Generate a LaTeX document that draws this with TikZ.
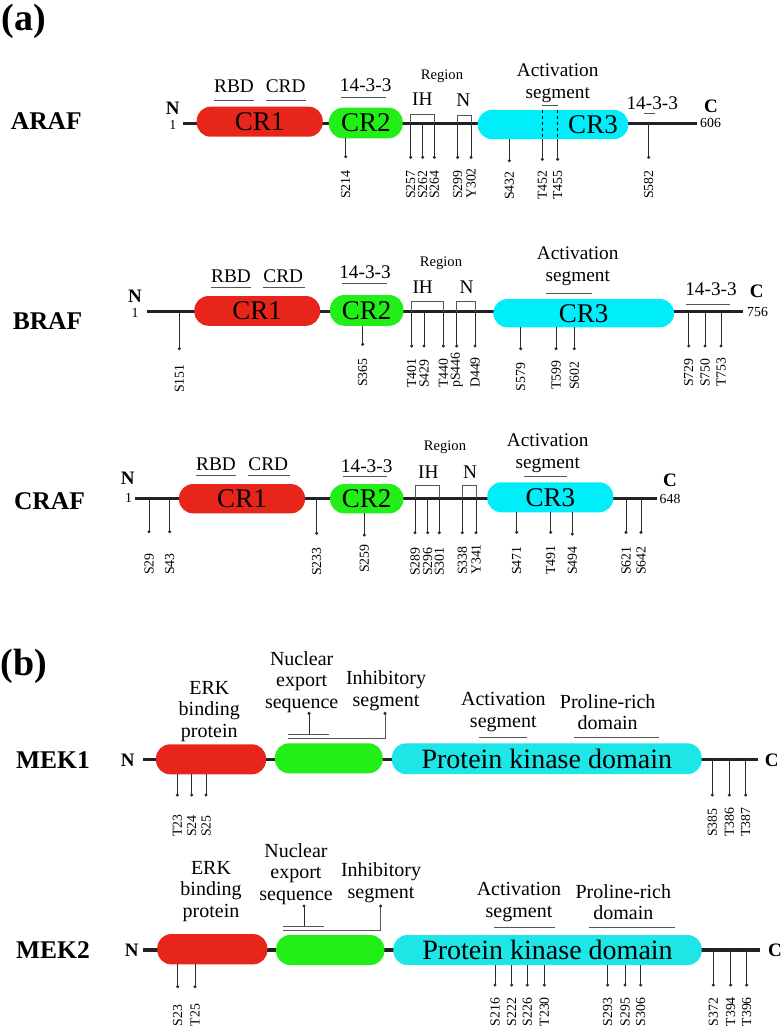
\documentclass[tikz,border=0pt]{standalone}
\usepackage{fontspec}
\setmainfont{Liberation Serif}
\definecolor{crred}{RGB}{232,37,26}
\definecolor{crgreen}{RGB}{34,238,24}
\definecolor{crcyan}{RGB}{0,238,250}
\definecolor{mkcyan}{RGB}{30,230,230}
\definecolor{bb}{RGB}{34,34,34}
\definecolor{st}{RGB}{45,45,45}
\definecolor{ul}{RGB}{85,85,85}
\newcommand\fsite{\fontsize{13.8}{14}\selectfont}
\newcommand\flab{\fontsize{19.3}{21.7}\selectfont}
\newcommand\flabm{\fontsize{20}{21.7}\selectfont}
\newcommand\fregion{\fontsize{14.6}{15}\selectfont}
\newcommand\fcr{\fontsize{27}{28}\selectfont}
\newcommand\fpk{\fontsize{28}{30}\selectfont}
\newcommand\fname{\bfseries\fontsize{25.5}{28}\selectfont}
\newcommand\fpanel{\bfseries\fontsize{38}{42}\selectfont}
\newcommand\fterm{\bfseries\fontsize{19}{20}\selectfont}
\tikzset{
  backbone/.style={line width=3.2pt, draw=bb},
  dom/.style={rounded corners=14pt, inner sep=0pt, font=\fcr},
  stick/.style={line width=0.9pt, draw=st},
  uline/.style={line width=1pt, draw=ul},
  brk/.style={line width=0.9pt, draw=ul},
  lab/.style={font=\flab, inner sep=0pt, align=center},
  labm/.style={font=\flabm, inner sep=0pt, align=center},
  sitelab/.style={rotate=90, anchor=west, font=\fsite, inner sep=0pt},
  rowname/.style={font=\fname, inner sep=0pt},
  term/.style={font=\fterm, inner sep=0pt},
  num/.style={font=\fsite, inner sep=0pt},
  region/.style={font=\fregion, inner sep=0pt},
  panel/.style={font=\fpanel, inner sep=0pt},
}
% x, y start, y dot, text, y of label start
\newcommand\site[5]{%
  \draw[stick] (#1,#2) -- (#1,#3);
  \fill[st] (#1,#3) circle (1.7pt);
  \node[sitelab] at (#1,#5) {#4};}
\begin{document}
\begin{tikzpicture}[x=1pt,y=-1pt]
\useasboundingbox (0,0) rectangle (782,1031);
\fill[white] (0,0) rectangle (782,1031);

% ---------------- panel labels ----------------
\node[panel] (pa) at (24,21.5) {(a)};
\node[panel] (pb) at (24,666) {(b)};

% ================= ARAF =================
\node[rowname] (araf) at (46.3,121) {ARAF};
\draw[backbone] (183,123.3) coordinate (aN) -- (696.7,123.3) coordinate (aC);
\node[term] (aNl) at (172.7,108) {N};
\node[num] (aN1) at (172.7,125) {1};
\node[term] (aCl) at (711,106.7) {C};
\node[num, anchor=west] (aC1) at (700,123.3) {606};
\node[dom, fill=crred, minimum width=126pt, minimum height=30pt] (acr1) at (259.7,121.7) {CR1};
\node[dom, fill=crgreen, minimum width=73.7pt, minimum height=30.6pt] (acr2) at (365.8,123) {CR2};
\node[dom, fill=crcyan, minimum width=150.6pt, minimum height=29pt] (acr3) at (553,124.5) {};
\node[font=\fcr, inner sep=0pt] (acr3t) at (593,124.5) {CR3};
\node[lab] (arbd) at (234,86) {RBD};
\draw[uline] (214,100) -- (254,100);
\node[lab] (acrd) at (285.7,86) {CRD};
\draw[uline] (266,100) -- (306,100);
\node[lab] (a1433) at (365.7,85) {14-3-3};
\draw[uline] (341.3,97.3) -- (386,97.3);
\node[region] (areg) at (442,76) {Region};
\node[lab] (aih) at (422.3,99.3) {IH};
\draw[brk] (410.7,123.3) -- (410.7,114.3) -- (434.3,114.3) -- (434.3,123.3);
\node[lab] (anr) at (463.3,100) {N};
\draw[brk] (457.7,123.3) -- (457.7,115) -- (471,115) -- (471,123.3);
\node[lab] (aact) at (557.7,83) {Activation\\segment};
\draw[uline] (542.3,105) -- (557.7,105);
\node[lab] (a1433b) at (652.3,103.3) {14-3-3};
\draw[uline] (644,113.3) -- (655,113.3);
\site{345.7}{138.3}{156.7}{S214}{199}
\site{410.7}{123.3}{157.3}{S257}{199}
\site{422.7}{123.3}{157.3}{S262}{199}
\site{434.3}{123.3}{157.3}{S264}{199}
\site{457.7}{123.3}{157.3}{S299}{199}
\site{471}{123.3}{157.3}{Y302}{199}
\site{509.3}{139}{160.7}{S432}{200}
\draw[line width=0.9pt, dashed] (542.3,110) -- (542.3,139);
\draw[line width=0.9pt, dashed] (557.7,110) -- (557.7,139);
\site{542.3}{139}{159.3}{T452}{200}
\site{557.7}{139}{159.3}{T455}{200}
\site{648.7}{123.3}{157.3}{S582}{199}

% ================= BRAF =================
\node[rowname] (braf) at (47.5,321) {BRAF};
\draw[backbone] (146.7,311.7) coordinate (bN) -- (743.3,311.7) coordinate (bC);
\node[term] (bNl) at (135,296.7) {N};
\node[num] (bN1) at (135,313.3) {1};
\node[term] (bCl) at (756.7,291.7) {C};
\node[num, anchor=west] (bC1) at (747,311.7) {756};
\node[dom, fill=crred, minimum width=125.7pt, minimum height=29.7pt] (bcr1) at (257.2,310.9) {CR1};
\node[dom, fill=crgreen, minimum width=73.3pt, minimum height=30.7pt] (bcr2) at (366.7,310.4) {CR2};
\node[dom, fill=crcyan, minimum width=180.7pt, minimum height=28.3pt] (bcr3) at (583.7,313.2) {CR3};
\node[lab] (brbd) at (231,276) {RBD};
\draw[uline] (211,287.3) -- (251,287.3);
\node[lab] (bcrd) at (283.3,276) {CRD};
\draw[uline] (262.7,287.3) -- (304.7,287.3);
\node[lab] (b1433) at (365,272.3) {14-3-3};
\draw[uline] (342.3,283.3) -- (387.3,283.3);
\node[region] (breg) at (441,263.5) {Region};
\node[lab] (bih) at (422.7,286.7) {IH};
\draw[brk] (411.7,311.7) -- (411.7,301.7) -- (443.3,301.7) -- (443.3,311.7);
\node[lab] (bnr) at (466.7,286.7) {N};
\draw[brk] (456.7,311.7) -- (456.7,301.7) -- (475,301.7) -- (475,311.7);
\node[lab] (bact) at (577.7,266.5) {Activation\\segment};
\draw[uline] (545.7,293.3) -- (592.3,293.3);
\node[lab] (b1433b) at (711,289.3) {14-3-3};
\draw[uline] (685.7,304) -- (730,304);
\site{179.3}{311.7}{348.7}{S151}{393}
\site{362.7}{325.7}{344.3}{S365}{387}
\site{411.7}{311.7}{346}{T401}{388}
\site{424}{311.7}{346}{S429}{388}
\site{443.3}{311.7}{346}{T440}{388}
\site{456.7}{311.7}{346}{pS446}{388}
\site{475}{311.7}{346}{D449}{388}
\site{520.7}{327.3}{348.7}{S579}{391.5}
\site{556}{327.3}{348.7}{T599}{390}
\site{574.3}{327.3}{348.7}{S602}{390}
\site{688.7}{311.7}{346}{S729}{387}
\site{705}{311.7}{346}{S750}{387}
\site{721}{311.7}{346}{T753}{387}

% ================= CRAF =================
\node[rowname] (craf) at (49.5,501) {CRAF};
\draw[backbone] (135,498.3) coordinate (cN) -- (657.3,498.3) coordinate (cC);
\node[term] (cNl) at (127.7,478.3) {N};
\node[num] (cN1) at (128.5,498.3) {1};
\node[term] (cCl) at (670,480) {C};
\node[num, anchor=west] (cC1) at (659.5,499) {648};
\node[dom, fill=crred, minimum width=126pt, minimum height=29.3pt] (ccr1) at (242,498.7) {CR1};
\node[dom, fill=crgreen, minimum width=73.3pt, minimum height=29.3pt] (ccr2) at (366.7,498.7) {CR2};
\node[dom, fill=crcyan, minimum width=126pt, minimum height=30pt] (ccr3) at (550.3,497.3) {CR3};
\node[lab] (crbd) at (216,464) {RBD};
\draw[uline] (196,475) -- (236,475);
\node[lab] (ccrd) at (268.3,464) {CRD};
\draw[uline] (248.3,475) -- (290,475);
\node[lab] (c1433) at (366.7,465.7) {14-3-3};
\draw[uline] (342.7,476.7) -- (387.3,476.7);
\node[region] (creg) at (445,447.5) {Region};
\node[lab] (cih) at (428.3,471.7) {IH};
\draw[brk] (415,498.3) -- (415,485.7) -- (439.3,485.7) -- (439.3,498.3);
\node[lab] (cnr) at (470,471.7) {N};
\draw[brk] (462.3,498.3) -- (462.3,485) -- (476,485) -- (476,498.3);
\node[lab] (cact) at (547.7,453.5) {Activation\\segment};
\draw[uline] (524.3,476.7) -- (566.7,476.7);
\site{149}{498.3}{531.7}{S29}{575}
\site{169.7}{498.3}{531.7}{S43}{575}
\site{316.7}{498.3}{533.3}{S233}{576}
\site{364.3}{513.3}{535}{S259}{573}
\site{415}{498.3}{532.7}{S289}{576}
\site{427.7}{498.3}{532.7}{S296}{576}
\site{439.3}{498.3}{532.7}{S301}{576}
\site{462.3}{498.3}{532.7}{S338}{575}
\site{476}{498.3}{532.7}{Y341}{575}
\site{516.7}{512.3}{532.3}{S471}{575}
\site{550.7}{512.3}{532.3}{T491}{575}
\site{572.3}{512.3}{534}{S494}{575}
\site{626}{498.3}{532.3}{S621}{575}
\site{641}{498.3}{532.3}{S642}{575}

% ================= MEK1 =================
\node[rowname] (mek1) at (53,760) {MEK1};
\draw[backbone] (142.7,759.3) coordinate (m1N) -- (758.3,759.3) coordinate (m1C);
\node[term] (m1Nl) at (127.7,760) {N};
\node[term] (m1Cl) at (771.7,760) {C};
\node[dom, fill=crred, minimum width=110pt, minimum height=30pt] (m1r) at (211,759.3) {};
\node[dom, fill=crgreen, minimum width=107.7pt, minimum height=30pt] (m1g) at (328.8,758.3) {};
\node[dom, fill=mkcyan, minimum width=309.7pt, minimum height=30.7pt, font=\fpk] (m1c) at (546.8,758.7) {Protein kinase domain};
\node[labm] (m1erk) at (209.3,711.5) {ERK\\binding\\protein};
\node[labm] (m1nes) at (301.7,682) {Nuclear\\export\\sequence};
\node[labm] (m1inh) at (386,690.5) {Inhibitory\\segment};
\node[labm] (m1act) at (503.3,712) {Activation\\segment};
\draw[uline] (479.3,737.3) -- (527.3,737.3);
\node[labm] (m1pro) at (607.7,712) {Proline-rich\\domain};
\draw[uline] (574,737.3) -- (659.3,737.3);
\draw[stick] (309,713.3) -- (309,734);
\fill[st] (309,713.3) circle (1.7pt);
\draw[uline] (288.3,734) -- (329.3,734);
\draw[uline] (288.3,738.3) -- (385,738.3) -- (385,713.3);
\fill[st] (385,713.3) circle (1.7pt);
\site{177.3}{774.3}{795}{T23}{837}
\site{191.7}{774.3}{795}{S24}{837}
\site{206}{774.3}{795}{S25}{837}
\site{712.3}{759.3}{795}{S385}{837}
\site{729.3}{759.3}{795}{T386}{837}
\site{745.7}{759.3}{795}{T387}{837}

% ================= MEK2 =================
\node[rowname] (mek2) at (53,950) {MEK2};
\draw[backbone] (143.3,950) coordinate (m2N) -- (760,950) coordinate (m2C);
\node[term] (m2Nl) at (131.7,950) {N};
\node[term] (m2Cl) at (775,950) {C};
\node[dom, fill=crred, minimum width=110pt, minimum height=30.3pt] (m2r) at (212.3,949.2) {};
\node[dom, fill=crgreen, minimum width=108.3pt, minimum height=30pt] (m2g) at (330.2,950) {};
\node[dom, fill=mkcyan, minimum width=308.4pt, minimum height=30pt, font=\fpk] (m2c) at (547.5,950) {Protein kinase domain};
\node[labm] (m2erk) at (211,891.5) {ERK\\binding\\protein};
\node[labm] (m2nes) at (296,874) {Nuclear\\export\\sequence};
\node[labm] (m2inh) at (381,883) {Inhibitory\\segment};
\node[labm] (m2act) at (519,902) {Activation\\segment};
\draw[uline] (494,927.7) -- (555,927.7);
\node[labm] (m2pro) at (623.3,902) {Proline-rich\\domain};
\draw[uline] (589.3,927.7) -- (675,927.7);
\draw[stick] (304,906) -- (304,926.7);
\fill[st] (304,906) circle (1.7pt);
\draw[uline] (283.3,926.7) -- (324,926.7);
\draw[uline] (283.3,930) -- (380.7,930) -- (380.7,906);
\fill[st] (380.7,906) circle (1.7pt);
\site{177.7}{964.3}{986.7}{S23}{1026.5}
\site{195}{964.3}{986.7}{T25}{1026.5}
\site{495}{965}{985}{S216}{1026.5}
\site{511.7}{965}{985}{S222}{1026.5}
\site{527.3}{965}{985}{S226}{1026.5}
\site{544.3}{965}{985}{T230}{1026.5}
\site{607.7}{965}{985}{S293}{1026.5}
\site{625}{965}{985}{S295}{1026.5}
\site{640.7}{965}{985}{S306}{1026.5}
\site{713.3}{950}{985}{S372}{1026.5}
\site{730.7}{950}{985}{T394}{1026.5}
\site{746.7}{950}{985}{T396}{1026.5}
\end{tikzpicture}
\end{document}
